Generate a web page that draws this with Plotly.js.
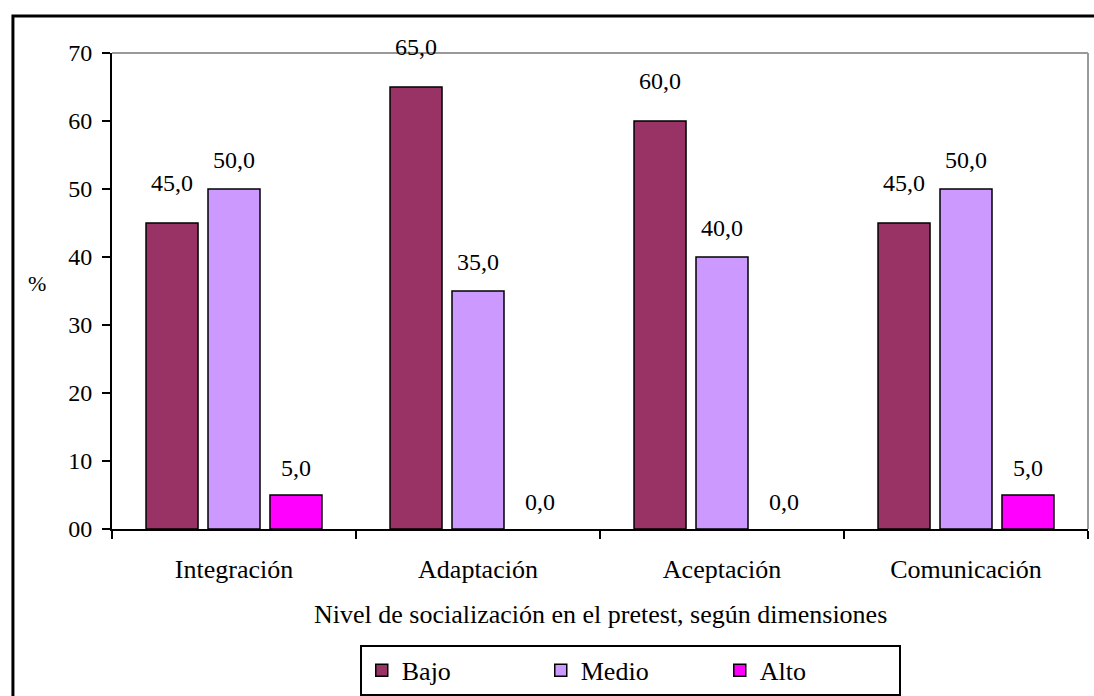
<!DOCTYPE html>
<html>
<head>
<meta charset="utf-8">
<script src="https://cdn.plot.ly/plotly-3.0.1.min.js"></script>
<style>
html,body{margin:0;padding:0;background:#fff;}
#chart{width:1094px;height:696px;}
</style>
</head>
<body>
<div id="chart"></div>
<script>
const categories = ["Integración", "Adaptación", "Aceptación", "Comunicación"];
const seriesNames = ["Bajo", "Medio", "Alto"];
const bajo = [45.0, 65.0, 60.0, 45.0];
const medio = [50.0, 35.0, 40.0, 50.0];
const alto = [5.0, 0.0, 0.0, 5.0];
const yTickVals = [0, 10, 20, 30, 40, 50, 60, 70];
const yTickText = ["00", "10", "20", "30", "40", "50", "60", "70"];
const xTitle = "Nivel de socialización en el pretest, según dimensiones";
const yTitle = "%";

const colors = ["#993366", "#CC99FF", "#FF00FF"];
const values = [bajo, medio, alto];
const FONT = "Liberation Serif, Times New Roman, serif";

const traces = values.map((v, i) => ({
  type: "bar",
  name: seriesNames[i],
  x: categories,
  y: v,
  marker: {color: colors[i], line: {color: "#000", width: v.map(val => val > 0 ? 1.5 : 0)}},
  hoverinfo: "x+y+name"
}));

const labelShift = [40, 29, 27];
const xOffsets = [-62, 0, 62];
const annotations = [];
values.forEach((v, i) => {
  v.forEach((val, j) => {
    annotations.push({
      x: categories[j], y: val, xref: "x", yref: "y",
      text: val.toFixed(1).replace(".", ","),
      showarrow: false, xshift: xOffsets[i], yshift: labelShift[i],
      font: {family: FONT, size: 24, color: "#000"}
    });
  });
});
annotations.push({
  xref: "paper", yref: "paper", x: 0.5, y: 0, yshift: -85,
  xanchor: "center", yanchor: "middle",
  text: xTitle, showarrow: false,
  font: {family: FONT, size: 26, color: "#000"}
});
annotations.push({
  xref: "paper", yref: "paper", x: -0.0768, y: 0.516,
  xanchor: "center", yanchor: "middle",
  text: yTitle, showarrow: false,
  font: {family: FONT, size: 22, color: "#000"}
});

const layout = {
  width: 1094, height: 696,
  margin: {l: 112, r: 6, t: 53, b: 167, autoexpand: false},
  paper_bgcolor: "#fff", plot_bgcolor: "#fff",
  font: {family: FONT, size: 24, color: "#000"},
  barmode: "group",
  bargap: 0.238,
  bargroupgap: 0.161,
  showlegend: true,
  legend: {
    orientation: "h", x: 0.531, xanchor: "center", y: -0.2435, yanchor: "top",
    bordercolor: "#000", borderwidth: 2, bgcolor: "#fff",
    font: {family: FONT, size: 26, color: "#000"},
    entrywidth: 134, traceorder: "normal"
  },
  xaxis: {
    type: "category",
    showline: true, linecolor: "#000", linewidth: 2,
    ticks: "outside", tickson: "boundaries", ticklen: 8, tickwidth: 2, tickcolor: "#000",
    ticklabelstandoff: 16,
    tickfont: {family: FONT, size: 26, color: "#000"},
    showgrid: false, zeroline: false, fixedrange: true
  },
  yaxis: {
    range: [0, 70],
    tickvals: yTickVals, ticktext: yTickText,
    showline: true, linecolor: "#000", linewidth: 2,
    ticks: "outside", ticklen: 8, tickwidth: 2, tickcolor: "#000",
    ticklabelstandoff: 5,
    tickfont: {family: FONT, size: 24, color: "#000"},
    showgrid: false, zeroline: false, fixedrange: true
  },
  shapes: [
    {type: "line", xref: "paper", yref: "paper", x0: 0, x1: 1, y0: 1, y1: 1,
     line: {color: "#999", width: 2}},
    {type: "line", xref: "paper", yref: "paper", x0: 1, x1: 1, y0: 0, y1: 1,
     line: {color: "#999", width: 2}},
    {type: "rect", xref: "paper", yref: "paper",
     x0: -0.1015, x1: 1.2, y0: -0.5, y1: 1.0777,
     line: {color: "#000", width: 3}, fillcolor: "rgba(0,0,0,0)", layer: "below"}
  ],
  annotations: annotations
};

Plotly.newPlot("chart", traces, layout, {displayModeBar: false, staticPlot: true});
</script>
</body>
</html>
